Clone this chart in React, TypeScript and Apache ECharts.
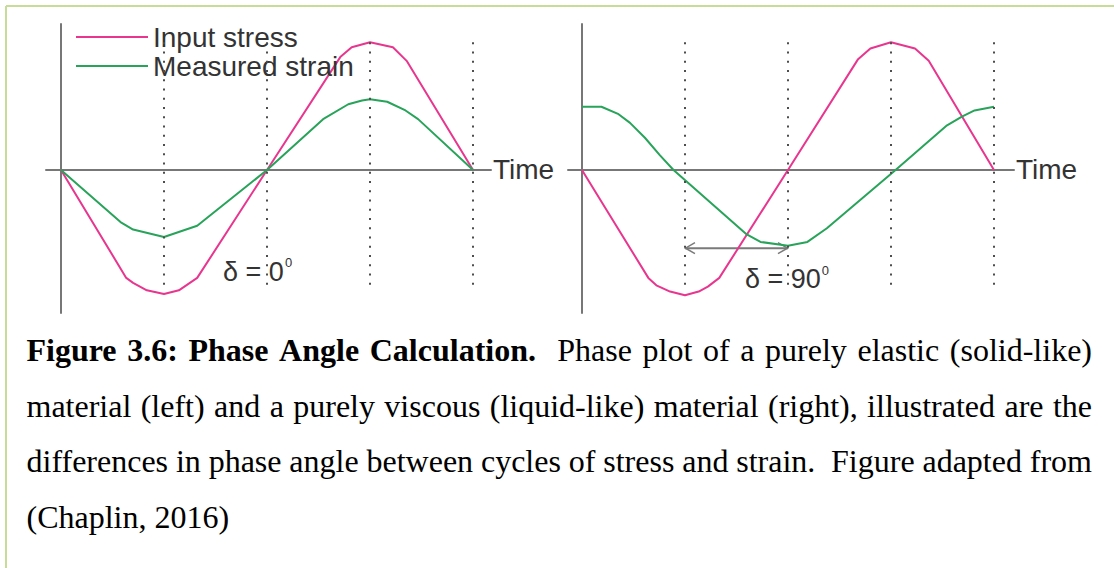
import React, { useEffect, useRef } from "react";
import * as echarts from "echarts";

// Phase (degrees over one cycle) and normalised amplitude of each trace.
const elasticStressPhase = [0, 57, 63, 75, 90, 103, 119, 180, 244, 254, 270, 290, 302, 360];
const elasticStressValue = [0, -0.87, -0.91, -0.97, -1.0, -0.97, -0.87, 0, 0.91, 0.99, 1.03, 0.99, 0.88, 0];
const elasticStrainPhase = [0, 52, 63, 90, 119, 180, 229, 251, 263, 270, 285, 301, 312, 360];
const elasticStrainValue = [0, -0.42, -0.48, -0.54, -0.45, 0, 0.41, 0.53, 0.56, 0.57, 0.55, 0.48, 0.41, 0];

const viscousStressPhase = [0, 58, 65, 77, 90, 102, 110, 120, 180, 241, 252, 270, 291, 303, 360];
const viscousStressValue = [0, -0.87, -0.93, -0.98, -1.01, -0.98, -0.94, -0.87, 0, 0.89, 0.98, 1.03, 0.98, 0.88, 0];
const viscousStrainPhase = [0, 17, 32, 42, 55, 68, 80, 144, 156, 180, 197, 214, 274, 319, 332, 343, 360];
const viscousStrainValue = [0.51, 0.51, 0.45, 0.38, 0.26, 0.12, 0, -0.52, -0.58, -0.61, -0.58, -0.47, 0, 0.36, 0.43, 0.48, 0.51];

// Quarter-cycle guides and their vertical extent.
const guidePhases = [90, 180, 270, 360];
const guideTop = 1.03;
const guideBottom = -0.97;

// Phase lag arrow on the viscous panel: from/to phase and level.
const lagPhases = [90, 180];
const lagLevel = -0.63;

const seriesNames = ["Input stress", "Measured strain"];
const axisName = "Time";
const deltaLabels = ["δ = 0", "δ = 90"];
const degreeMark = "0";

const captionLines = [
  "Figure 3.6: Phase Angle Calculation.  Phase plot of a purely elastic (solid-like)",
  "material (left) and a purely viscous (liquid-like) material (right), illustrated are the",
  "differences in phase angle between cycles of stress and strain.  Figure adapted from",
  "(Chaplin, 2016)",
];
const captionBoldWordCount = 5;

const PINK = "#e8368f";
const GREEN = "#28a35a";
const AXIS = "#777777";
const TEXT = "#333333";
const SANS = "'Liberation Sans', Arial, sans-serif";
const SERIF = "'Liberation Serif', 'Times New Roman', serif";

const pairs = (xs: number[], ys: number[]) => xs.map((x, i) => [x, ys[i]]);

function guideLines() {
  return guidePhases.map((p) => [{ coord: [p, guideTop] }, { coord: [p, guideBottom] }]);
}

function makeAxes(idx: number, xMin: number, xMax: number) {
  const xAxis = {
    gridIndex: idx,
    type: "value",
    min: xMin,
    max: xMax,
    axisLine: { show: true, onZero: true, lineStyle: { color: AXIS, width: 2 } },
    axisTick: { show: false },
    axisLabel: { show: false },
    splitLine: { show: false },
    name: axisName,
    nameLocation: "end",
    nameGap: 2,
    nameTextStyle: {
      fontSize: 28,
      color: TEXT,
      fontFamily: SANS,
      verticalAlign: "middle",
      align: "left",
    },
  };
  const yAxis = {
    gridIndex: idx,
    type: "value",
    min: -1.153,
    max: 1.177,
    axisLine: { show: true, onZero: true, lineStyle: { color: AXIS, width: 2 } },
    axisTick: { show: false },
    axisLabel: { show: false },
    splitLine: { show: false },
  };
  return { xAxis, yAxis };
}

function lineSeries(name: string, idx: number, data: number[][], color: string, withGuides: boolean) {
  const s: any = {
    type: "line",
    name,
    xAxisIndex: idx,
    yAxisIndex: idx,
    data,
    symbol: "none",
    showSymbol: false,
    silent: true,
    lineStyle: { color, width: 2 },
    itemStyle: { color },
    emphasis: { disabled: true },
  };
  if (withGuides) {
    s.markLine = {
      silent: true,
      symbol: ["none", "none"],
      label: { show: false },
      emphasis: { disabled: true },
      lineStyle: { type: [2, 7.25], color: "#4d4d4d", width: 2 },
      data: guideLines(),
    };
  }
  return s;
}

function captionGraphics() {
  const ctx = document.createElement("canvas").getContext("2d")!;
  const size = 32;
  const left = 26.5;
  const right = 1092;
  const baselines = [350, 405.5, 461, 516.5];
  const out: any[] = [];
  captionLines.forEach((line, li) => {
    const parts = line.split(/( +)/);
    const words: { text: string; bold: boolean; w: number }[] = [];
    const gaps: number[] = [];
    let wordIdx = 0;
    parts.forEach((p) => {
      if (p.trim() === "") {
        if (p.length) gaps.push(p.length);
        return;
      }
      const bold = li === 0 && wordIdx < captionBoldWordCount;
      ctx.font = `${bold ? "bold " : ""}${size}px ${SERIF}`;
      words.push({ text: p, bold, w: ctx.measureText(p).width });
      wordIdx++;
    });
    ctx.font = `${size}px ${SERIF}`;
    const spaceW = ctx.measureText(" ").width;
    const natural = words.reduce((a, w) => a + w.w, 0);
    const weight = gaps.reduce((a, g) => a + g, 0);
    const justify = li < captionLines.length - 1;
    const unit = justify && weight > 0 ? (right - left - natural) / weight : spaceW;
    let x = left;
    words.forEach((w, i) => {
      out.push({
        type: "text",
        x,
        y: baselines[li],
        silent: true,
        style: {
          text: w.text,
          fontSize: size,
          fontFamily: SERIF,
          fontWeight: w.bold ? "bold" : "normal",
          fill: "#000000",
          textAlign: "left",
          textVerticalAlign: "middle",
          align: "left",
          verticalAlign: "middle",
        },
      });
      x += w.w + (i < gaps.length ? gaps[i] * unit : 0);
    });
  });
  return out;
}

function sansText(text: string, x: number, y: number, size: number) {
  return {
    type: "text",
    x,
    y,
    silent: true,
    z: 10,
    style: {
      text,
      fontSize: size,
      fontFamily: SANS,
      fill: TEXT,
      textAlign: "left",
      textVerticalAlign: "middle",
      align: "left",
      verticalAlign: "middle",
    },
  };
}

function buildOption() {
  const a0 = makeAxes(0, -13.1, 375.7);
  const a1 = makeAxes(1, -12.2, 377.5);
  return {
    animation: false,
    backgroundColor: "#ffffff",
    textStyle: { fontFamily: SANS },
    grid: [
      { left: 46, top: 24, width: 445, height: 289, containLabel: false },
      { left: 568, top: 24, width: 446, height: 289, containLabel: false },
    ],
    xAxis: [a0.xAxis, a1.xAxis],
    yAxis: [a0.yAxis, a1.yAxis],
    legend: {
      data: seriesNames,
      orient: "vertical",
      left: 76,
      top: 23,
      padding: 0,
      itemGap: 1,
      itemWidth: 72,
      itemHeight: 2,
      icon: "rect",
      selectedMode: false,
      textStyle: { fontSize: 28, color: TEXT, fontFamily: SANS },
    },
    series: [
      lineSeries(seriesNames[0], 0, pairs(elasticStressPhase, elasticStressValue), PINK, true),
      lineSeries(seriesNames[1], 0, pairs(elasticStrainPhase, elasticStrainValue), GREEN, false),
      lineSeries(seriesNames[0], 1, pairs(viscousStressPhase, viscousStressValue), PINK, true),
      lineSeries(seriesNames[1], 1, pairs(viscousStrainPhase, viscousStrainValue), GREEN, false),
      {
        type: "custom",
        xAxisIndex: 1,
        yAxisIndex: 1,
        silent: true,
        data: [[lagPhases[0], lagPhases[1], lagLevel]],
        encode: { x: [0, 1], y: 2 },
        renderItem: (_params: any, api: any) => {
          const p1 = api.coord([api.value(0), api.value(2)]);
          const p2 = api.coord([api.value(1), api.value(2)]);
          const head = { stroke: "#7a7a7a", lineWidth: 1.5, fill: "none" };
          return {
            type: "group",
            children: [
              { type: "line", shape: { x1: p1[0], y1: p1[1], x2: p2[0], y2: p2[1] }, style: { stroke: "#7a7a7a", lineWidth: 2 } },
              { type: "polyline", shape: { points: [[p1[0] + 10, p1[1] - 5.5], [p1[0] + 0.5, p1[1]], [p1[0] + 10, p1[1] + 5.5]] }, style: head },
              { type: "polyline", shape: { points: [[p2[0] - 10, p2[1] - 5.5], [p2[0] - 0.5, p2[1]], [p2[0] - 10, p2[1] + 5.5]] }, style: head },
            ],
          };
        },
      },
    ],
    graphic: [
      { type: "line", silent: true, shape: { x1: 6, y1: 6, x2: 1114, y2: 6 }, style: { stroke: "#c6dc98", lineWidth: 2 } },
      { type: "line", silent: true, shape: { x1: 6, y1: 6, x2: 6, y2: 568 }, style: { stroke: "#c6dc98", lineWidth: 2 } },
      sansText(deltaLabels[0], 223, 272.3, 27),
      sansText(degreeMark, 285, 262.2, 13),
      sansText(deltaLabels[1], 745, 279, 27),
      sansText(degreeMark, 821.7, 270.5, 13),
      ...captionGraphics(),
    ],
  };
}

export default function App() {
  const ref = useRef<HTMLDivElement>(null);
  useEffect(() => {
    const chart = echarts.init(ref.current!, null, { renderer: "svg" });
    chart.setOption(buildOption() as any);
    return () => chart.dispose();
  }, []);
  return (
    <div
      ref={ref}
      style={{ position: "absolute", left: 0, top: 0, width: 1114, height: 568, background: "#ffffff" }}
    />
  );
}
